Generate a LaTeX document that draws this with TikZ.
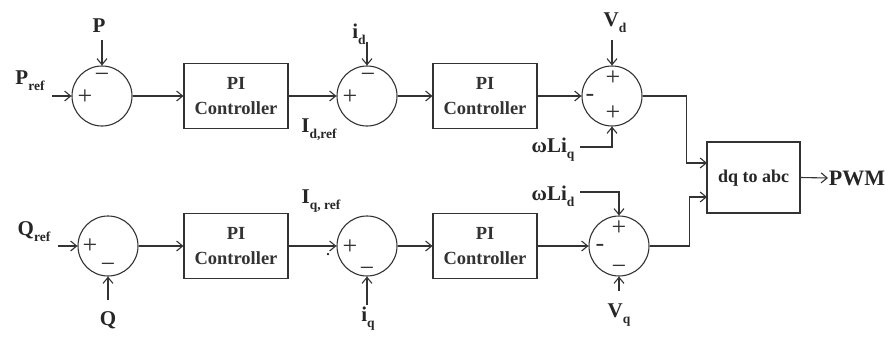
\documentclass[tikz,border=0pt]{standalone}
\usepackage{fontspec}
\setmainfont{Liberation Serif}
\usetikzlibrary{arrows.meta}
\newcommand\mysub[1]{\raisebox{-0.28em}{\fontsize{13.5}{13.5}\selectfont #1}}
\begin{document}
\begin{tikzpicture}[x=1pt,y=-1pt,line width=1.1pt,
  sumnode/.style={circle,draw=black!80,minimum size=60pt,inner sep=0pt},
  pibox/.style={draw=black!80,minimum width=104pt,minimum height=65pt,align=center,
    font=\fontsize{18.5}{25}\selectfont\bfseries,text=black!80},
  lab/.style={font=\fontsize{21}{22}\selectfont\bfseries,inner sep=0pt,text=black!85},
  sgn/.style={font=\fontsize{26}{26}\selectfont,inner sep=0pt,text=black!80},
  arr/.style={draw=black!80,-{Straight Barb[length=6pt,width=10pt]}}]
\useasboundingbox (0,0) rectangle (889,338);
% summing junctions
\node[sumnode] (c1) at (102,96) {};
\node[sumnode] (c2) at (367,96) {};
\node[sumnode] (c3) at (612,96) {};
\node[sumnode] (c4) at (108,246) {};
\node[sumnode] (c5) at (367,246) {};
\node[sumnode] (c6) at (619,246) {};
% blocks
\node[pibox] (b1) at (236,96) {PI\\Controller};
\node[pibox] (b2) at (485,96) {PI\\Controller};
\node[pibox] (b3) at (236,246) {PI\\Controller};
\node[pibox] (b4) at (485,246) {PI\\Controller};
\node[draw=black!80,minimum width=93pt,minimum height=71pt] (dq) at (753.5,177.5) {};
\node[font=\fontsize{18}{20}\selectfont\bfseries,text=black!85] (dqt) at (753.5,178) {dq to abc};
% signs
\node[sgn] (s1a) at (85,97) {+};
\node[sgn] (s1b) at (102,78) {−};
\node[sgn] (s2a) at (350,97) {+};
\node[sgn] (s2b) at (368,78) {−};
\node[sgn] (s3a) at (613,78) {+};
\node[sgn] (s3b) at (590,98) {-};
\node[sgn] (s3c) at (613,113) {+};
\node[sgn] (s4a) at (90,246) {+};
\node[sgn] (s4b) at (108,268) {−};
\node[sgn] (s5a) at (350,247) {+};
\node[sgn] (s5b) at (367,272) {−};
\node[sgn] (s6a) at (619,228) {+};
\node[sgn] (s6b) at (600,248) {-};
\node[sgn] (s6c) at (619,270) {−};
% labels
\node[lab] (lP) at (99,26) {P};
\node[lab] (lPref) at (30,81) {P\mysub{ref}};
\node[lab] (lid) at (359,34) {i\mysub{d}};
\node[lab] (lIdref) at (319,130) {I\mysub{d,ref}};
\node[lab] (lVd) at (615,23) {V\mysub{d}};
\node[lab] (lwLiq) at (553,150) {ωLi\mysub{q}};
\node[lab] (lQref) at (34,232) {Q\mysub{ref}};
\node[lab] (lQ) at (108,320) {Q};
\node[lab] (lIqref) at (321,201) {I\mysub{q, ref}};
\node[lab] (liq) at (368,319) {i\mysub{q}};
\node[lab] (lwLid) at (553,196) {ωLi\mysub{d}};
\node[lab] (lVq) at (619,315) {V\mysub{q}};
\node[lab,font=\fontsize{22}{22}\selectfont\bfseries] (lPWM) at (857,178) {PWM};
\node[lab,font=\fontsize{14}{14}\selectfont\bfseries] (dot) at (328,255) {.};
% free ends
\coordinate (pPref) at (52,96);
\coordinate (pP) at (102,40);
\coordinate (pid) at (367,42);
\coordinate (pVd) at (612,40);
\coordinate (pwLiq) at (580,147);
\coordinate (pQref) at (58,246);
\coordinate (pQ) at (108,300);
\coordinate (piq) at (367,305);
\coordinate (pwLid) at (580,192);
\coordinate (pVq) at (619,291);
\coordinate (dqin1) at (707,163);
\coordinate (dqin2) at (707,197);
\coordinate (pPWM) at (828,178);
% connectors top row
\draw[arr] (pPref) -- (c1.west);
\draw[arr] (pP) -- (c1.north);
\draw[arr] (c1.east) -- (b1.west);
\draw[arr] (b1.east) -- (c2.west);
\draw[arr] (pid) -- (c2.north);
\draw[arr] (c2.east) -- (b2.west);
\draw[arr] (b2.east) -- (c3.west);
\draw[arr] (pVd) -- (c3.north);
\draw[arr] (pwLiq) -| (c3.south);
\draw[arr] (c3.east) -- ++(44,0) |- (dqin1);
% connectors bottom row
\draw[arr] (pQref) -- (c4.west);
\draw[arr] (pQ) -- (c4.south);
\draw[arr] (c4.east) -- (b3.west);
\draw[arr] (b3.east) -- (c5.west);
\draw[arr] (piq) -- (c5.south);
\draw[arr] (c5.east) -- (b4.west);
\draw[arr] (b4.east) -- (c6.west);
\draw[arr] (pwLid) -| (c6.north);
\draw[arr] (pVq) -- (c6.south);
\draw[arr] (c6.east) -- ++(40,0) |- (dqin2);
\draw[arr] (dq.east) -- (pPWM);
\end{tikzpicture}
\end{document}
